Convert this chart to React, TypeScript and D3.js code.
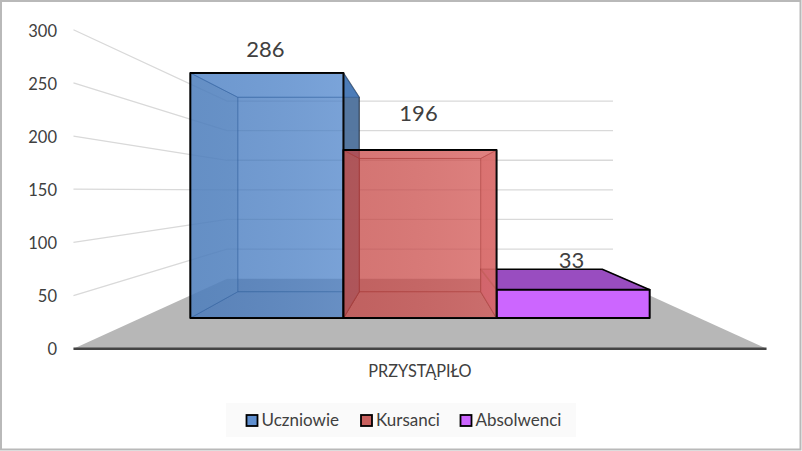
import React, { useEffect, useRef } from 'react';
import * as d3 from 'd3';

const categoryLabel = 'PRZYSTĄPIŁO';
const seriesNames = ['Uczniowie', 'Kursanci', 'Absolwenci'];
const seriesValues = [286, 196, 33];
const seriesColors = ['#3d78c4', '#cf4745', '#cc66ff'];
const visibleColors = ['#6f9bd2', '#dc7674', '#cc66ff'];
const legendColors = ['#5f8fcf', '#c9605e', '#cc66ff'];
const seriesAlpha = [0.5, 0.5, 1];
const wallShade = [0.15, 0.5, 0];
const drawOrder = [0, 2, 1];
const yTicks = [0, 50, 100, 150, 200, 250, 300];

const WIDTH = 802;
const HEIGHT = 451;
const FONT = 'Lato, "Open Sans", sans-serif';
const TEXT = '#404040';

// perspective: every depth is just a scale factor around the vanishing point
const centerX = 420;
const horizonY = 190.7;
const depth = { wallFront: 1.063, barFront: 0.857, barBack: 0.68, wallBack: 0.592 };
const wallHalf = 326;
const barHalf = 268;

const xBand = d3.scaleBand<string>().domain(seriesNames).range([-barHalf, barHalf]);
const yWorld = d3.scaleLinear().domain([0, 300]).range([148.6, -151.4]);

type Pt = [number, number];
const project = (wx: number, value: number, s: number): Pt => [
  centerX + wx * s,
  horizonY + yWorld(value) * s,
];
const poly = d3.line<Pt>().curve(d3.curveLinearClosed);

const App: React.FC = () => {
  const svgRef = useRef<SVGSVGElement>(null);

  useEffect(() => {
    if (!svgRef.current) return;
    document.body.style.margin = '0';
    const svg = d3.select(svgRef.current);
    svg.selectAll('*').remove();

    // połysk frontu słupka, lekko jaśniejszy w prawo
    const sheen = svg.append('defs').append('linearGradient').attr('id', 'sheen');
    sheen.append('stop').attr('offset', '0%').attr('stop-color', '#000').attr('stop-opacity', 0.04);
    sheen.append('stop').attr('offset', '100%').attr('stop-color', '#fff').attr('stop-opacity', 0.06);

    // tło
    svg.append('rect').attr('x', 1).attr('y', 1).attr('width', WIDTH - 2.5).attr('height', HEIGHT - 2.5)
      .attr('fill', '#fff').attr('stroke', '#b9b9b9').attr('stroke-width', 2);

    // podłoga
    svg.append('path')
      .attr('d', poly([
        project(-wallHalf, 0, depth.wallFront),
        project(wallHalf, 0, depth.wallFront),
        project(wallHalf, 0, depth.wallBack),
        project(-wallHalf, 0, depth.wallBack),
      ]))
      .attr('fill', '#b7b7b7');

    // siatka
    yTicks.filter(t => t > 0).forEach(t => {
      const a = project(-wallHalf, t, depth.wallFront);
      const b = project(-wallHalf, t, depth.wallBack);
      const c = project(wallHalf, t, depth.wallBack);
      svg.append('polyline')
        .attr('points', [a, b, c].map(p => p.join(',')).join(' '))
        .attr('fill', 'none').attr('stroke', '#d9d9d9').attr('stroke-width', 1.3);
    });

    // oś
    const axisA = project(-wallHalf, 0, depth.wallFront);
    const axisB = project(wallHalf, 0, depth.wallFront);
    svg.append('line').attr('x1', axisA[0]).attr('x2', axisB[0]).attr('y1', axisA[1]).attr('y2', axisB[1])
      .attr('stroke', '#444').attr('stroke-width', 2.5);

    yTicks.forEach(t => {
      svg.append('text').attr('x', 57).attr('y', project(-wallHalf, t, depth.wallFront)[1] + 1)
        .attr('dy', '.35em').attr('text-anchor', 'end')
        .attr('font-family', FONT).attr('font-size', 16.5).attr('fill', TEXT).text(t);
    });

    // słupki
    drawOrder.forEach(i => {
      const value = seriesValues[i];
      const x0 = xBand(seriesNames[i])!;
      const x1 = x0 + xBand.bandwidth();
      const f = depth.barFront;
      const b = depth.barBack;
      const g = svg.append('g');
      const alpha = seriesAlpha[i];
      const inner = seriesColors[i];
      const outer = d3.rgb(visibleColors[i]).darker(0.8).formatHex();
      const edge = d3.rgb(inner).darker(1).formatHex();

      const face = (pts: Pt[], fill: string, opacity: number, stroke: string, w: number) =>
        g.append('path').attr('d', poly(pts)).attr('fill', fill).attr('fill-opacity', opacity)
          .attr('stroke', stroke).attr('stroke-width', w).attr('stroke-opacity', stroke === '#000' ? 1 : 0.5)
          .attr('stroke-linejoin', 'round');

      const backFace: Pt[] = [project(x0, 0, b), project(x1, 0, b), project(x1, value, b), project(x0, value, b)];
      const frontFace: Pt[] = [project(x0, 0, f), project(x1, 0, f), project(x1, value, f), project(x0, value, f)];
      const leftWall: Pt[] = [project(x0, 0, f), project(x0, 0, b), project(x0, value, b), project(x0, value, f)];
      const rightWall: Pt[] = [project(x1, 0, f), project(x1, 0, b), project(x1, value, b), project(x1, value, f)];
      const topFace: Pt[] = [project(x0, value, f), project(x1, value, f), project(x1, value, b), project(x0, value, b)];
      const bottomFace: Pt[] = [project(x0, 0, f), project(x1, 0, f), project(x1, 0, b), project(x0, 0, b)];

      // ściany widoczne z zewnątrz są ciemne i prawie nieprzezroczyste
      const leftOuter = project(x0, 0, b)[0] < project(x0, 0, f)[0];
      const rightOuter = project(x1, 0, b)[0] > project(x1, 0, f)[0];
      const topOuter = yWorld(value) > 0;

      if (alpha < 1) {
        face(backFace, inner, alpha, edge, 1);
        face(bottomFace, inner, alpha, edge, 1);
      }
      if (leftOuter) face(leftWall, outer, 0.97, '#111', 1.3);
      else face(leftWall, d3.rgb(visibleColors[i]).darker(wallShade[i]).formatHex(), 0.75, edge, 1);
      if (rightOuter) face(rightWall, outer, 0.97, '#111', 1.3);
      else face(rightWall, visibleColors[i], 0.85, edge, 1);
      if (topOuter) face(topFace, outer, 1, '#000', 1.5);
      else face(topFace, d3.rgb(inner).brighter(0.15).formatHex(), alpha, edge, 1);
      // front sam nie dokłada koloru tam, gdzie ściana już jest ciemna
      face(frontFace, inner, alpha === 1 ? 1 : 0.46, '#000', 2);
      if (alpha < 1) g.append('path').attr('d', poly(frontFace)).attr('fill', 'url(#sheen)');
    });

    // etykiety wartości
    const labelLift = [16, 29, 22];
    seriesValues.forEach((value, i) => {
      const x0 = xBand(seriesNames[i])!;
      const top = project(x0 + xBand.bandwidth() / 2, value, depth.barFront);
      svg.append('text').attr('x', top[0] - 1.5).attr('y', top[1] - labelLift[i])
        .attr('text-anchor', 'middle').attr('font-family', FONT).attr('font-size', 22)
        .attr('fill', TEXT).text(value);
    });

    svg.append('text').attr('x', centerX).attr('y', 377).attr('text-anchor', 'middle')
      .attr('font-family', FONT).attr('font-size', 16.3).attr('fill', TEXT).text(categoryLabel);

    // legenda
    svg.append('rect').attr('x', 226).attr('y', 403).attr('width', 350).attr('height', 34).attr('fill', '#fafafa');
    const legendX = [246.5, 361, 460.5];
    seriesNames.forEach((name, i) => {
      svg.append('rect').attr('x', legendX[i]).attr('y', 415).attr('width', 11).attr('height', 11)
        .attr('fill', legendColors[i]).attr('stroke', '#000').attr('stroke-width', 1.8);
      svg.append('text').attr('x', legendX[i] + 15).attr('y', 426)
        .attr('font-family', FONT).attr('font-size', 17).attr('fill', TEXT).text(name);
    });
  }, []);

  return <svg ref={svgRef} width={WIDTH} height={HEIGHT} style={{ display: 'block' }} />;
};

export default App;
